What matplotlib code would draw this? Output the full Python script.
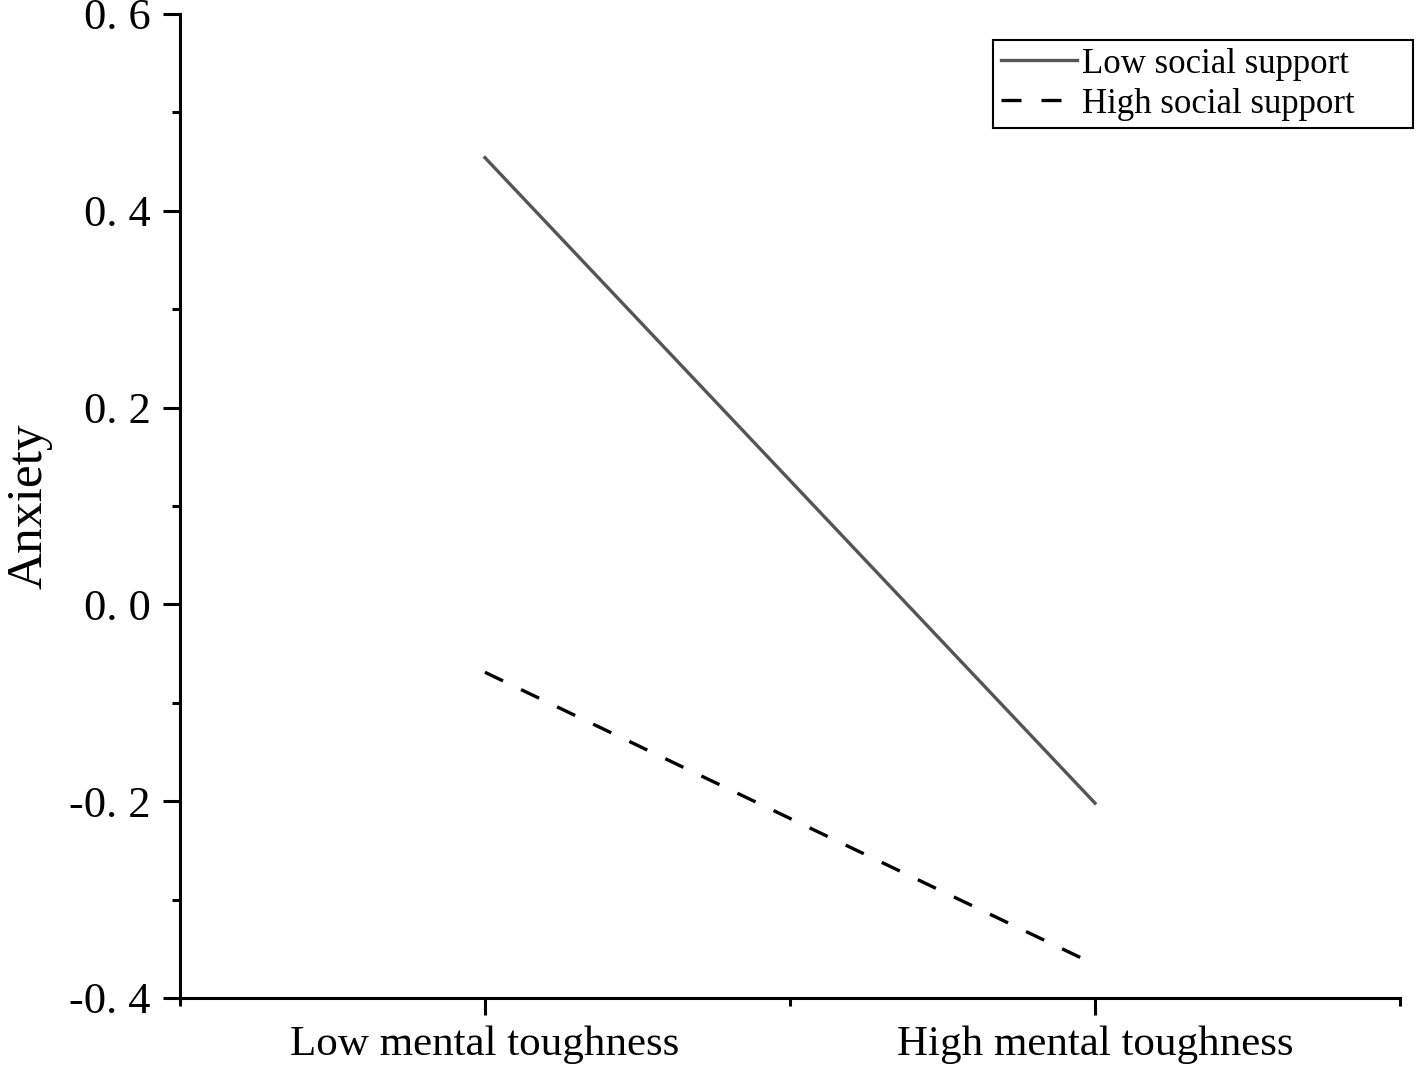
import numpy as np
import matplotlib
matplotlib.use('Agg')
import matplotlib.pyplot as plt
from matplotlib.ticker import FixedLocator, FixedFormatter

plt.rcParams['font.family'] = ['Liberation Serif', 'DejaVu Serif']

# ── Data ───────────────────────────────────────────────────────────
categories  = ['Low mental toughness', 'High mental toughness']
cat_pos     = [1, 2]
low_support  = [0.454, -0.202]
high_support = [-0.069, -0.366]
series_names = ['Low social support', 'High social support']

y_ticks  = [-0.4, -0.2, 0.0, 0.2, 0.4, 0.6]
y_labels = ['-0. 4', '-0. 2', '0. 0', '0. 2', '0. 4', '0. 6']
y_minor  = [-0.3, -0.1, 0.1, 0.3, 0.5]
x_minor  = [0.5, 1.5, 2.5]

GRAY = '#555555'

fig = plt.figure(figsize=(14.17, 10.76), dpi=100)
ax = fig.add_axes([0.127, 0.0725, 0.861, 0.9145])

ax.plot(cat_pos, low_support, '-', color=GRAY, lw=2.4, label=series_names[0])
ax.plot(cat_pos, high_support, color='black', lw=2.4, dashes=(6, 6),
        label=series_names[1])

ax.set_xlim(0.5, 2.5)
ax.set_ylim(-0.4, 0.6)

for s in ['top', 'right']:
    ax.spines[s].set_visible(False)
for s in ['left', 'bottom']:
    ax.spines[s].set_linewidth(2.2)

ax.xaxis.set_major_locator(FixedLocator(cat_pos))
ax.xaxis.set_major_formatter(FixedFormatter(categories))
ax.xaxis.set_minor_locator(FixedLocator(x_minor))
ax.yaxis.set_major_locator(FixedLocator(y_ticks))
ax.yaxis.set_major_formatter(FixedFormatter(y_labels))
ax.yaxis.set_minor_locator(FixedLocator(y_minor))

ax.tick_params(axis='both', which='major', direction='out', length=12,
               width=2.2, color='black')
ax.tick_params(axis='both', which='minor', direction='out', length=6,
               width=2.2, color='black')
ax.tick_params(axis='y', which='major', pad=9, labelsize=32)
ax.tick_params(axis='x', which='major', pad=8, labelsize=31)

ax.set_ylabel('Anxiety', fontsize=37, labelpad=12)

# legend box spans the upper-right corner, a little past the axes
leg = ax.legend(loc='upper left', bbox_to_anchor=(0.6664, 0.885, 0.3443, 0.0886),
                mode='expand', fontsize=25,
                frameon=True, fancybox=False, edgecolor='black', framealpha=1,
                handlelength=2.2, handletextpad=0.15, borderpad=0.22,
                labelspacing=0.2, borderaxespad=0.0)
leg.get_frame().set_linewidth(1.5)

fig.savefig('out.png', dpi=100, facecolor='white')
